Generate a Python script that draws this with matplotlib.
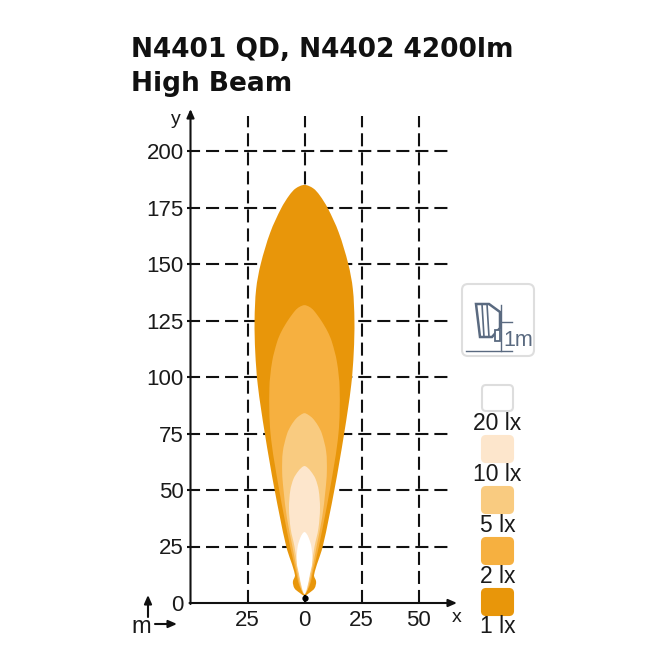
import matplotlib
matplotlib.use('Agg')
import matplotlib.pyplot as plt
from matplotlib.patches import FancyBboxPatch, PathPatch, Polygon
from matplotlib.path import Path

plt.rcParams['font.family'] = ['Liberation Sans', 'DejaVu Sans']
plt.rcParams['lines.scale_dashes'] = False

title_lines = ['N4401 QD, N4402 4200lm', 'High Beam']
x_ticks = [-25, 0, 25, 50]
x_tick_labels = ['25', '0', '25', '50']
y_ticks = [0, 25, 50, 75, 100, 125, 150, 175, 200]

# distance (m) and half width (m) of each isolux curve
y_1lx = [3.2, 4.4, 6.5, 9.4, 12.4, 25, 50, 75, 96.5, 111, 125, 139, 150, 164, 174.7, 180.5, 183.5, 185]
w_1lx = [0, 2, 4.4, 5.1, 4.2, 8, 13.1, 17.4, 20.5, 21.6, 21.9, 21.2, 19.2, 15, 10.2, 6.6, 3.8, 0]
y_2lx = [3.8, 6, 9.4, 12.4, 25, 50, 75, 95, 106.8, 115.6, 120, 125, 129.5, 131, 131.8]
w_2lx = [0, 1.5, 2.8, 3.4, 6.3, 11.1, 14.9, 15.4, 14.2, 12, 10.2, 7.3, 4, 2.2, 0]
y_5lx = [3.8, 6.5, 12.4, 25, 37.6, 50, 58, 67, 75, 78.7, 81.7, 83.3, 84]
w_5lx = [0, 1.5, 2.9, 5.3, 7.7, 9.2, 9.8, 9.5, 7.6, 5.8, 3.6, 1.6, 0]
y_10lx = [3.8, 6, 12.4, 25, 33, 42, 50, 55, 58, 60, 60.6]
w_10lx = [0, 0.7, 2.3, 4.4, 6.1, 6.8, 6.2, 4.8, 3, 1.2, 0]
y_20lx = [4, 6.5, 12.4, 18, 25, 28.7, 30.8, 31.4]
w_20lx = [0, 1.1, 2.3, 3.4, 3, 1.9, 0.8, 0]

legend_labels = ['20 lx', '10 lx', '5 lx', '2 lx', '1 lx']
legend_colors = ['#FFFFFF', '#FDE6CC', '#F9CB80', '#F6B040', '#E8960A']


def seg(a, b):
    return ((a[0] - b[0]) ** 2 + (a[1] - b[1]) ** 2) ** 0.5


def beam_path(ys, ws):
    # closed smooth outline through the points, right side up then left side down
    pts = [(w, y) for w, y in zip(ws, ys)] + [(-w, y) for w, y in zip(ws[-2:0:-1], ys[-2:0:-1])]
    n = len(pts)
    # unit-ish tangent at every point, weighted by chord length
    tans = []
    for i in range(n):
        a, b = pts[i - 1], pts[(i + 1) % n]
        d = seg(pts[i], a) + seg(pts[i], b)
        tans.append(((b[0] - a[0]) / d, (b[1] - a[1]) / d))
    verts = [pts[0]]
    codes = [Path.MOVETO]
    for i in range(n):
        p1, p2 = pts[i], pts[(i + 1) % n]
        t1, t2 = tans[i], tans[(i + 1) % n]
        L = seg(p1, p2) / 3
        verts += [(p1[0] + t1[0] * L, p1[1] + t1[1] * L), (p2[0] - t2[0] * L, p2[1] - t2[1] * L), p2]
        codes += [Path.CURVE4] * 3
    return Path(verts, codes)


fig = plt.figure(figsize=(6.65, 6.65), dpi=100, facecolor='white')

# main plot: x=-50 at 190.5px, 0 at 304.5px, y=0 at 603px, y=200 at 151px
ax = fig.add_axes([190.5 / 665, (665 - 603) / 665, (460 - 190.5) / 665, (603 - 108) / 665])
ax.set_xlim(-50, (460 - 304.5) / 57 * 25)
ax.set_ylim(0, 495 / 2.26)
for s in ax.spines.values():
    s.set_visible(False)
ax.patch.set_visible(False)

dash = (0, (9.4, 4.3))
for x in x_ticks:
    ax.plot([x, x], [0, 215.5], color='#111111', lw=1.5, ls=dash, zorder=1, clip_on=False)
for y in y_ticks[1:]:
    ax.plot([-51.5, 63.5], [y, y], color='#111111', lw=1.5, ls=dash, zorder=1, clip_on=False)

curves = [(y_1lx, w_1lx), (y_2lx, w_2lx), (y_5lx, w_5lx), (y_10lx, w_10lx), (y_20lx, w_20lx)]
for (ys, ws), col in zip(curves, legend_colors[::-1]):
    ax.add_patch(PathPatch(beam_path(ys, ws), facecolor=col, edgecolor='none', zorder=2))

ax.plot([0, 0], [0, 3], color='black', lw=1.5, zorder=3)
ax.plot([0], [2.2], marker='o', ms=3.5, color='black', zorder=3)

ax.set_xticks(x_ticks)
ax.set_xticklabels(x_tick_labels)
ax.set_yticks(y_ticks)
ax.tick_params(axis='both', length=0, labelsize=16, colors='#1a1a1a')
ax.tick_params(axis='x', pad=5)
ax.tick_params(axis='y', pad=5)

# overlay in picture pixels for everything outside the data
ov = fig.add_axes([0, 0, 1, 1], zorder=5)
ov.set_xlim(0, 665)
ov.set_ylim(665, 0)
ov.axis('off')
ov.patch.set_visible(False)

ov.text(131, 57, title_lines[0], fontsize=19, fontweight='bold', family='DejaVu Sans', color='#111111')
ov.text(131, 91, title_lines[1], fontsize=19, fontweight='bold', family='DejaVu Sans', color='#111111')


def arrow(x0, y0, x1, y1, lw=1.5):
    ov.annotate('', xy=(x1, y1), xytext=(x0, y0),
                arrowprops=dict(arrowstyle='-|>,head_width=0.22,head_length=0.5', color='#111111',
                                lw=lw, shrinkA=0, shrinkB=0))


arrow(190.5, 604, 190.5, 109)
arrow(189.5, 603, 457, 603)
arrow(148, 617, 148, 595)
arrow(155, 624, 177, 624)
ov.text(176, 119, 'y', fontsize=14, ha='center', va='center', color='#1a1a1a')
ov.text(457, 618, 'x', fontsize=14, ha='center', va='center', color='#1a1a1a')
ov.text(141, 633, 'm', fontsize=17, ha='center', va='baseline', color='#1a1a1a')

# legend swatches
swatch_tops = [385, 436, 487, 538, 589]
label_bases = [430, 481, 532, 583, 633]
for top, base, lab, col in zip(swatch_tops, label_bases, legend_labels, legend_colors):
    edge = '#DDDDDD' if col == '#FFFFFF' else col
    ov.add_patch(FancyBboxPatch((485, top + 3), 25, 20, boxstyle='round,pad=3,rounding_size=4',
                                facecolor=col, edgecolor=edge, lw=1.5))
    ov.text(497.5, base, lab, fontsize=16.5, ha='center', va='baseline', color='#1a1a1a')

# mounting height icon
slate = '#5A6A80'
ov.add_patch(FancyBboxPatch((467, 289), 62, 62, boxstyle='round,pad=5,rounding_size=6',
                            facecolor='white', edgecolor='#DEDEDE', lw=1.5))
ov.plot([466, 512], [351, 351], color=slate, lw=1)
ov.plot([501, 501], [305, 351], color=slate, lw=1)
ov.plot([501, 512], [322, 322], color=slate, lw=1)
ov.add_patch(Polygon([(476, 304), (489, 304), (500, 312), (500, 328), (492, 337), (480, 337)],
                     closed=True, facecolor='white', edgecolor=slate, lw=1.8))
ov.plot([482, 484], [304, 337], color=slate, lw=1.2)
ov.plot([487, 489], [304, 337], color=slate, lw=1.2)
ov.add_patch(Polygon([(495, 330), (500, 330), (500, 341), (495, 341)], closed=True,
                     facecolor='white', edgecolor=slate, lw=1.3))
ov.text(503, 346, '1m', fontsize=15.5, color=slate, va='baseline')

fig.savefig('out.png', dpi=100, facecolor='white')
